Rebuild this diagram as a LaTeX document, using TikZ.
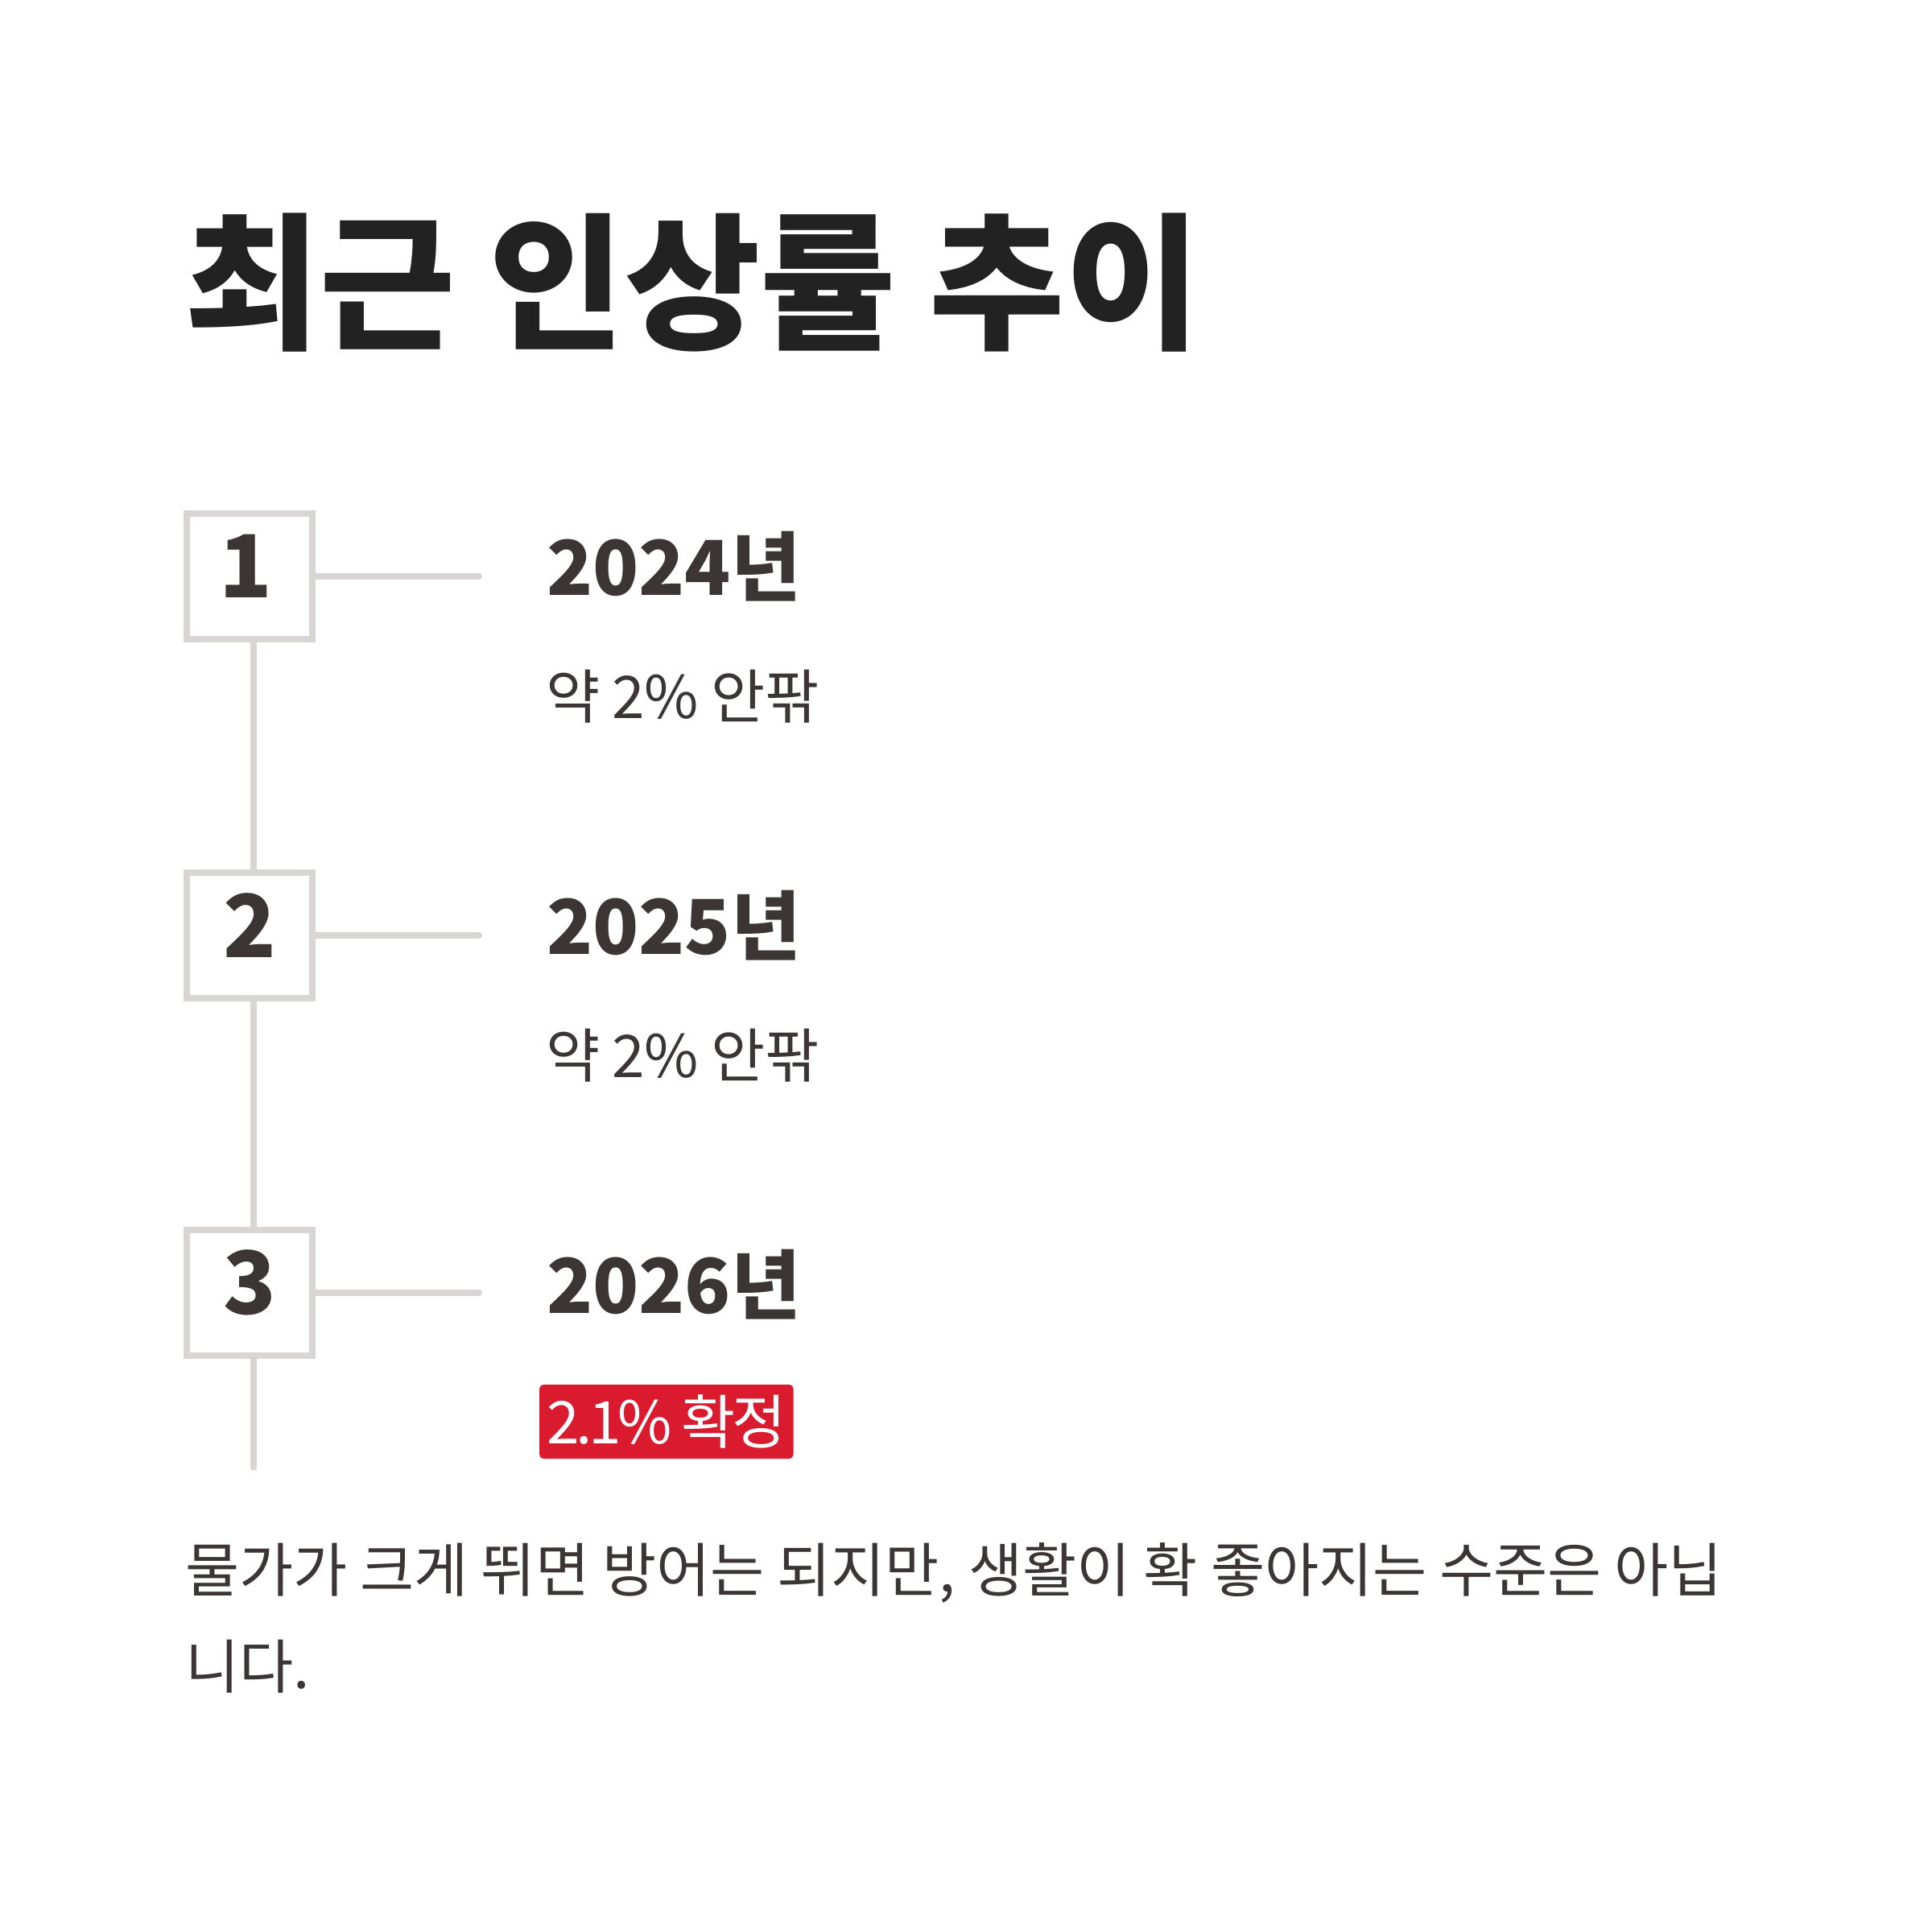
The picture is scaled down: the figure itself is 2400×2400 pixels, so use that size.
\documentclass[tikz,border=0pt]{standalone}
\usepackage{fontspec}
\setmainfont{Noto Sans CJK KR}
\newfontfamily\bodyfont{Noto Sans CJK KR}[LetterSpace=-1.0]
\newfontfamily\parafont{Noto Sans CJK KR}[LetterSpace=-0.2]
\newfontfamily\badgefont{Noto Sans CJK KR}[LetterSpace=-6.0]
\definecolor{titlec}{HTML}{222222}
\definecolor{textc}{HTML}{3B3536}
\definecolor{linec}{HTML}{D9D5D4}
\definecolor{badgec}{HTML}{DA1A2E}
\tikzset{
  numbox/.style={draw=linec, line width=8pt, fill=white, minimum size=156pt, inner sep=0pt},
  numtext/.style={text=textc, font=\fontsize{108}{120}\selectfont\bfseries, inner sep=0pt},
  conn/.style={draw=linec, line width=8pt},
  yeartext/.style={text=textc, font=\fontsize{94}{110}\selectfont\bfseries, inner sep=0pt, anchor=west},
  subtext/.style={text=textc, font=\bodyfont\fontsize{73}{90}\selectfont, inner sep=0pt, anchor=west},
  badge/.style={fill=badgec, text=white, font=\badgefont\fontsize{73}{90}\selectfont, rounded corners=5pt, inner xsep=9pt, minimum height=92pt, anchor=west},
  bodytext/.style={text=textc, font=\parafont\fontsize{73}{116}\selectfont, inner sep=0pt, anchor=west}
}
\begin{document}
\begin{tikzpicture}[x=1pt,y=-1pt]
\path[use as bounding box, fill=white] (0,0) rectangle (2400,2400);
\node[text=titlec, font=\fontsize{183}{220}\selectfont\bfseries, inner sep=0pt, anchor=west] (title) at (229,351) {최근 인상률 추이};
\coordinate (h1) at (595,716);
\coordinate (h2) at (595,1162);
\coordinate (h3) at (595,1606);
\coordinate (vend) at (315,1823);
\node[numbox] (b1) at (310,716) {};
\node[numbox] (b2) at (310,1162) {};
\node[numbox] (b3) at (310,1606) {};
\draw[conn, line cap=round] (b1.east) -- (h1);
\draw[conn, line cap=round] (b2.east) -- (h2);
\draw[conn, line cap=round] (b3.east) -- (h3);
\draw[conn] ([xshift=5pt]b1.south) -- ([xshift=5pt]b2.north);
\draw[conn] ([xshift=5pt]b2.south) -- ([xshift=5pt]b3.north);
\draw[conn, line cap=round] ([xshift=5pt]b3.south) -- (vend);
\node[numbox] (b1f) at (b1) {};
\node[numbox] (b2f) at (b2) {};
\node[numbox] (b3f) at (b3) {};
\node[numtext] (n1) at (305,703) {1};
\node[numtext] (n2) at (310,1150) {2};
\node[numtext] (n3) at (310,1593) {3};
\node[yeartext] (y1) at (679,704) {2024년};
\node[yeartext] (y2) at (679,1150) {2025년};
\node[yeartext] (y3) at (679,1596) {2026년};
\node[subtext] (s1) at (678,865) {약 2\% 안팎};
\node[subtext] (s2) at (678,1311) {약 2\% 안팎};
\node[badge] (s3) at (670,1766) {2.1\% 확정};
\node[bodytext] (p1) at (230,1954) {물가가 크게 뛰면 방어는 되지만, 생활이 확 좋아지는 수준은 아닙};
\node[bodytext] (p2) at (230,2070) {니다.};
\end{tikzpicture}
\end{document}
